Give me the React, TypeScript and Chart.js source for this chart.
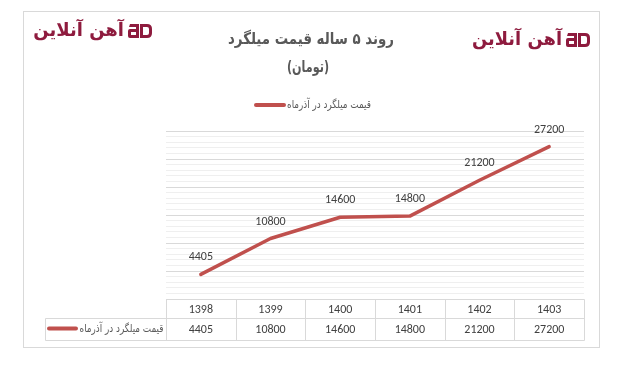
import React, { useEffect, useRef } from "react";
import { Chart, registerables } from "chart.js";

Chart.register(...registerables);

const categories = ["1398", "1399", "1400", "1401", "1402", "1403"];
const prices = [4405, 10800, 14600, 14800, 21200, 27200];
const seriesName = "قیمت میلگرد در آذرماه";
const titleLine1 = "روند ۵ ساله قیمت میلگرد";
const titleLine2 = "(تومان)";
const brandName = "آهن آنلاین";
const yMin = 0;
const yMax = 30000;
const yMinorStep = 1000;
const yMajorStep = 5000;

const LINE_COLOR = "#C0504D";
const BRAND_COLOR = "#8E1B3E";
const GRID_MAJOR = "#d9d9d9";
const GRID_MINOR = "#efefef";
const TEXT_COLOR = "#404040";
const PERSIAN_FONT = '"DejaVu Sans", sans-serif';
const NUM_FONT = 'Carlito, Lato, "Liberation Sans", sans-serif';

function drawLogo(ctx: CanvasRenderingContext2D, textRight: number, midY: number, width: number) {
  ctx.save();
  ctx.fillStyle = BRAND_COLOR;
  ctx.font = `bold 18px ${PERSIAN_FONT}`;
  ctx.textAlign = "right";
  ctx.textBaseline = "middle";
  ctx.fillText(brandName, textRight, midY, width);
  // icon "aD"
  const x0 = textRight + 4;
  const top = midY - 7;
  const h = 14;
  ctx.beginPath();
  ctx.moveTo(x0 + 2, top);
  ctx.lineTo(x0 + 11, top);
  ctx.lineTo(x0 + 11, top + h);
  ctx.lineTo(x0 + 2, top + h);
  ctx.quadraticCurveTo(x0, top + h, x0, top + h - 2);
  ctx.lineTo(x0, top + 7);
  ctx.quadraticCurveTo(x0, top + 5, x0 + 2, top + 5);
  ctx.lineTo(x0 + 8, top + 5);
  ctx.lineTo(x0 + 8, top + 3);
  ctx.lineTo(x0 + 1, top + 3);
  ctx.closePath();
  ctx.fill();
  ctx.fillStyle = "#ffffff";
  ctx.fillRect(x0 + 3, top + 8, 5, 3);
  ctx.fillStyle = BRAND_COLOR;
  const dx = x0 + 12;
  ctx.beginPath();
  ctx.moveTo(dx, top);
  ctx.lineTo(dx + 7, top);
  ctx.quadraticCurveTo(dx + 12, top, dx + 12, top + 5);
  ctx.lineTo(dx + 12, top + h - 5);
  ctx.quadraticCurveTo(dx + 12, top + h, dx + 7, top + h);
  ctx.lineTo(dx, top + h);
  ctx.closePath();
  ctx.fill();
  ctx.fillStyle = "#ffffff";
  ctx.beginPath();
  ctx.moveTo(dx + 3, top + 3);
  ctx.lineTo(dx + 7, top + 3);
  ctx.quadraticCurveTo(dx + 9, top + 3, dx + 9, top + 5);
  ctx.lineTo(dx + 9, top + h - 5);
  ctx.quadraticCurveTo(dx + 9, top + h - 3, dx + 7, top + h - 3);
  ctx.lineTo(dx + 3, top + h - 3);
  ctx.closePath();
  ctx.fill();
  ctx.restore();
}

function legendLine(ctx: CanvasRenderingContext2D, x1: number, x2: number, y: number) {
  ctx.save();
  ctx.strokeStyle = LINE_COLOR;
  ctx.lineWidth = 4;
  ctx.lineCap = "round";
  ctx.beginPath();
  ctx.moveTo(x1, y);
  ctx.lineTo(x2, y);
  ctx.stroke();
  ctx.restore();
}

const decorPlugin = {
  id: "decor",
  beforeDraw(chart: any) {
    const ctx = chart.ctx as CanvasRenderingContext2D;
    ctx.save();
    ctx.fillStyle = "#ffffff";
    ctx.fillRect(0, 0, chart.width, chart.height);
    ctx.strokeStyle = "#d9d9d9";
    ctx.lineWidth = 1;
    ctx.strokeRect(23.5, 11.5, 576, 336);

    ctx.fillStyle = "#595959";
    ctx.font = `bold 16px ${PERSIAN_FONT}`;
    ctx.textAlign = "center";
    ctx.textBaseline = "middle";
    ctx.fillText(titleLine1, 311, 40, 166);
    ctx.fillText(titleLine2, 308, 68, 42);

    legendLine(ctx, 256, 284, 105);
    ctx.font = `11px ${PERSIAN_FONT}`;
    ctx.textAlign = "left";
    ctx.fillStyle = "#595959";
    ctx.fillText(seriesName, 287, 105, 84);
    ctx.restore();

    drawLogo(ctx, 124, 31, 92);
    drawLogo(ctx, 562, 40, 90);
  },
  afterDraw(chart: any) {
    const ctx = chart.ctx as CanvasRenderingContext2D;
    const xs = chart.scales.x;
    const area = chart.chartArea;
    const half = (xs.getPixelForValue(1) - xs.getPixelForValue(0)) / 2;
    const yTop = Math.round(area.bottom) + 0.5;
    const yMid = yTop + 19;
    const yBot = yMid + 22;
    const legendLeft = 45.5;
    ctx.save();
    ctx.strokeStyle = "#d9d9d9";
    ctx.lineWidth = 1;
    ctx.beginPath();
    const left = Math.round(xs.getPixelForValue(0) - half) + 0.5;
    const right = Math.round(xs.getPixelForValue(categories.length - 1) + half) + 0.5;
    ctx.moveTo(left, yTop);
    ctx.lineTo(right, yTop);
    ctx.moveTo(legendLeft, yMid);
    ctx.lineTo(right, yMid);
    ctx.moveTo(legendLeft, yBot);
    ctx.lineTo(right, yBot);
    ctx.moveTo(legendLeft, yMid);
    ctx.lineTo(legendLeft, yBot);
    for (let i = 0; i <= categories.length; i++) {
      const x = Math.round(xs.getPixelForValue(i) - half) + 0.5;
      ctx.moveTo(x, yTop);
      ctx.lineTo(x, yBot);
    }
    ctx.stroke();

    ctx.fillStyle = TEXT_COLOR;
    ctx.font = `12px ${NUM_FONT}`;
    ctx.textAlign = "center";
    ctx.textBaseline = "middle";
    categories.forEach((c, i) => {
      const x = xs.getPixelForValue(i);
      ctx.fillText(c, x, (yTop + yMid) / 2 + 0.5);
      ctx.fillText(String(prices[i]), x, (yMid + yBot) / 2 + 0.5);
    });

    legendLine(ctx, 49, 76, (yMid + yBot) / 2 - 1);
    ctx.font = `11px ${PERSIAN_FONT}`;
    ctx.textAlign = "right";
    ctx.fillStyle = "#595959";
    ctx.fillText(seriesName, left - 3, (yMid + yBot) / 2, 84);

    const meta = chart.getDatasetMeta(0);
    ctx.font = `12px ${NUM_FONT}`;
    ctx.textAlign = "center";
    ctx.fillStyle = TEXT_COLOR;
    meta.data.forEach((pt: any, i: number) => {
      ctx.fillText(String(prices[i]), pt.x, pt.y - 17);
    });
    ctx.restore();
  },
};

export default function App() {
  const ref = useRef<HTMLCanvasElement | null>(null);
  useEffect(() => {
    if (!ref.current) return;
    const chart = new Chart(ref.current, {
      type: "line",
      data: {
        labels: categories,
        datasets: [
          {
            label: seriesName,
            data: prices,
            borderColor: LINE_COLOR,
            backgroundColor: LINE_COLOR,
            borderWidth: 3.5,
            pointRadius: 0,
            pointHoverRadius: 0,
            tension: 0,
            borderCapStyle: "round",
            borderJoinStyle: "round",
            clip: false as any,
          },
        ],
      },
      options: {
        responsive: false,
        animation: false,
        devicePixelRatio: 1,
        layout: { padding: { left: 166, right: 39, top: 131, bottom: 67 } },
        plugins: {
          legend: { display: false },
          title: { display: false },
          tooltip: { enabled: false },
        },
        scales: {
          x: {
            type: "category",
            display: false,
            offset: true,
          },
          y: {
            type: "linear",
            min: yMin,
            max: yMax,
            border: { display: false },
            ticks: { display: false, stepSize: yMinorStep, maxTicksLimit: 200 },
            grid: {
              drawTicks: false,
              lineWidth: 1,
              color: (c: any) =>
                c.tick && c.tick.value % yMajorStep === 0 ? GRID_MAJOR : GRID_MINOR,
            },
          },
        },
      },
      plugins: [decorPlugin],
    });
    return () => chart.destroy();
  }, []);
  return (
    <div style={{ position: "absolute", left: 0, top: 0, width: 623, height: 366, background: "#fff" }}>
      <canvas ref={ref} width={623} height={366} style={{ display: "block" }} />
    </div>
  );
}
